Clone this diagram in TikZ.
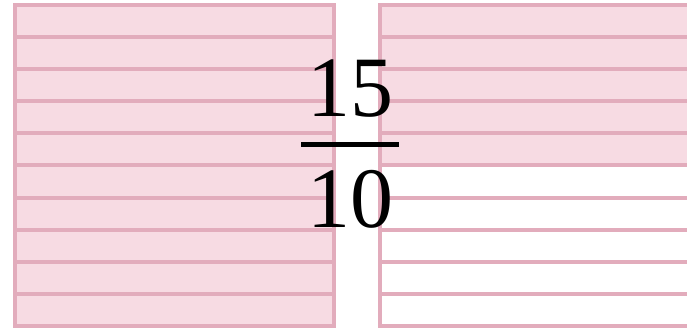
\documentclass[tikz,border=0pt]{standalone}
\usepackage{fontspec}
\setmainfont{Liberation Serif}
\usetikzlibrary{positioning}
\usepackage{xcolor}
\definecolor{stripFill}{RGB}{247,219,227}
\definecolor{stripLine}{RGB}{226,172,188}

\begin{document}
\begin{tikzpicture}[
        x=1pt, y=-1pt,
        strip/.style={draw=stripLine, line width=4pt, fill=stripFill}, % shaded tenth
        empty strip/.style={draw=stripLine, line width=4pt, fill=white}, % unshaded tenth
        digits/.style={inner sep=0pt, font=\fontsize{86}{86}\selectfont}
    ]
    \useasboundingbox (0,0) rectangle (687,328);
    \begin{scope}
        \clip (0,0) rectangle (687,328);
        % left whole: all ten strips shaded
        \foreach \i in {0,...,9} {
            \draw[strip] (15,{5+32.1*\i}) rectangle (334,{5+32.1*(\i+1)});
        }
        % right whole: five of ten strips shaded
        \foreach \i in {0,...,4} {
            \draw[strip] (380,{5+32.1*\i}) rectangle (720,{5+32.1*(\i+1)});
        }
        \foreach \i in {5,...,9} {
            \draw[empty strip] (380,{5+32.1*\i}) rectangle (720,{5+32.1*(\i+1)});
        }
    \end{scope}

    \node[digits] (num) at (350,89) {15};
    \node[digits] (den) at (350,199) {10};

    \coordinate (bar west) at (301,144.5);
    \coordinate (bar east) at (399,144.5);
    \draw[line width=5pt] (bar west) -- (bar east); % fraction bar
\end{tikzpicture}
\end{document}
